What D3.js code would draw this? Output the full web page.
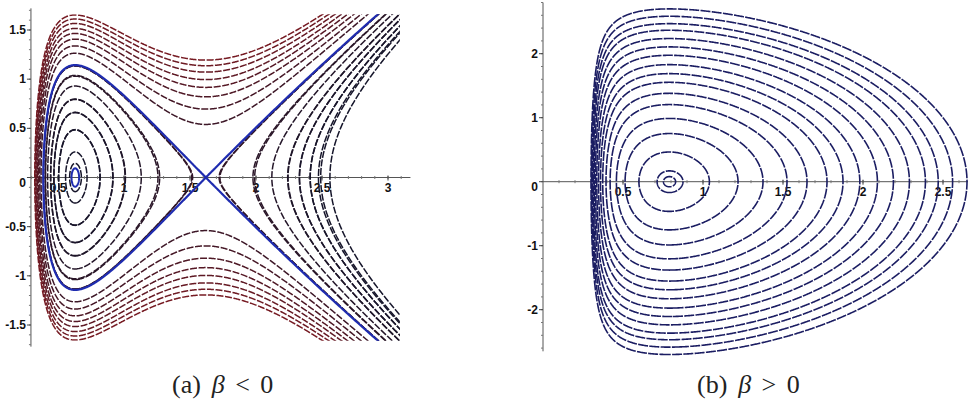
<!DOCTYPE html>
<html><head><meta charset="utf-8">
<script src="https://cdn.jsdelivr.net/npm/d3@7"></script>
<style>
body{margin:0;background:#fff;}
svg{display:block;}
.tick{font-family:"Liberation Sans",Arial,sans-serif;font-weight:700;font-size:12px;fill:#111;}
.cap{font-family:"Liberation Serif","Times New Roman",serif;font-size:26px;fill:#222;}
</style></head>
<body><svg id="c" width="968" height="403"></svg>
<script>
// ---------------- Panel (a): beta < 0 ----------------
const aXTicks = [0.5, 1, 1.5, 2, 2.5, 3];
const aYTicks = [-1.5, -1, -0.5, 0, 0.5, 1, 1.5];
const aCentreX = 0.63;           // centre (elliptic point)
const aSaddleX = 1.62;           // saddle (hyperbolic point)
const aSeparatrixPeakY = 1.143;  // height of separatrix above the centre
const aOuterPeakY = [1.653, 1.612, 1.567, 1.516, 1.465, 1.407, 1.338, 1.264]; // outer orbits, height above centre
const aInnerCrossX = [0.72, 0.818, 0.917, 1.008, 1.27, 1.52];                 // closed orbits, right crossing of y=0
const aRightCrossX = [1.727, 1.99, 2.12, 2.24, 2.33, 2.41, 2.49, 2.56];      // unbounded orbits right of saddle
const aSmallOrbitX = 0.66;       // small blue orbit round the centre

// ---------------- Panel (b): beta > 0 ----------------
const bXTicks = [0.5, 1, 1.5, 2, 2.5];
const bYTicks = [-2, -1, 0, 1, 2];
const bCrossX = [0.829, 0.875, 1.04, 1.219, 1.375, 1.525, 1.65, 1.775, 1.875, 1.98, 2.09, 2.19, 2.29, 2.39, 2.47, 2.56, 2.65];

// ---------------- Hamiltonians H = y^2/2 + V(x) ----------------
const nA = 1.5;
const pA = aCentreX ** (nA + 1), qA = aSaddleX ** (nA + 1);
const BA = nA * (qA - pA) / (aSaddleX - aCentreX);
const AA = BA * aCentreX - nA * pA;
const fA = x => AA / x + BA * Math.log(x) - Math.pow(x, nA);
const kA = (aSeparatrixPeakY * aSeparatrixPeakY / 2) / (fA(aSaddleX) - fA(aCentreX));
const VA = x => kA * fA(x);
const HA = (x, y) => y * y / 2 + VA(x);

const sB = 0.24, aB = 0.001312, bB = 0.23577, cB = 0.7229;
const VB = x => { const u = x - sB; return aB / (u * u) + bB / u + cB * u * u; };
const HB = (x, y) => y * y / 2 + VB(x);

const svg = d3.select("#c");
const defs = svg.append("defs");

function contourSet(g, H, xr, yr, step, levels, sx, sy) {
  const nx = Math.ceil((xr[1] - xr[0]) / step) + 1;
  const ny = Math.ceil((yr[1] - yr[0]) / step) + 1;
  const vals = new Float64Array(nx * ny);
  for (let j = 0; j < ny; j++) {
    const y = yr[1] - j * step;
    for (let i = 0; i < nx; i++) vals[j * nx + i] = H(xr[0] + i * step, y);
  }
  const gen = d3.contours().size([nx, ny]);
  const proj = d3.geoTransform({
    point(px, py) { this.stream.point(sx(xr[0] + (px - 0.5) * step), sy(yr[1] - (py - 0.5) * step)); }
  });
  const path = d3.geoPath(proj);
  levels.forEach(lv => {
    (lv.group || g).append("path")
      .attr("d", path(gen.contour(vals, lv.value)))
      .attr("fill", "none")
      .attr("stroke", lv.color)
      .attr("stroke-width", lv.width)
      .attr("stroke-dasharray", lv.dash || null)
      .attr("stroke-linejoin", "round");
  });
}

function axes(x, y, xAxisRange, yAxisX, yAxisRange, xTicks, yTicks, xMinor, yMinor) {
  const g = svg.append("g");
  const y0 = y(0);
  g.append("line").attr("x1", x(xAxisRange[0])).attr("x2", x(xAxisRange[1]))
    .attr("y1", y0).attr("y2", y0).attr("stroke", "#555").attr("stroke-width", 1);
  const xa = x(yAxisX);
  g.append("line").attr("x1", xa).attr("x2", xa)
    .attr("y1", y(yAxisRange[0])).attr("y2", y(yAxisRange[1])).attr("stroke", "#555").attr("stroke-width", 1);
  xMinor.forEach(v => g.append("line").attr("x1", x(v)).attr("x2", x(v)).attr("y1", y0 - 1.5).attr("y2", y0 + 1.5).attr("stroke", "#777"));
  yMinor.forEach(v => g.append("line").attr("x1", xa - 2).attr("x2", xa).attr("y1", y(v)).attr("y2", y(v)).attr("stroke", "#777"));
  xTicks.forEach(v => {
    g.append("line").attr("x1", x(v)).attr("x2", x(v)).attr("y1", y0 - 2).attr("y2", y0 + 3).attr("stroke", "#444");
    g.append("text").attr("class", "tick").attr("x", x(v)).attr("y", y0 + 14).attr("text-anchor", "middle").text(v);
  });
  yTicks.forEach(v => {
    g.append("line").attr("x1", xa - 4).attr("x2", xa).attr("y1", y(v)).attr("y2", y(v)).attr("stroke", "#444");
    g.append("text").attr("class", "tick").attr("x", xa - 5).attr("y", y(v) + (v === 0 ? 9 : 4))
      .attr("text-anchor", "end").text(v);
  });
}

function range(a, b, s) { const r = []; for (let v = a; v <= b + 1e-9; v += s) r.push(+v.toFixed(3)); return r; }

// ---------------- draw panel (a) ----------------
{
  const x = d3.scaleLinear().domain([0.5, 3]).range([58, 388]);
  const y = d3.scaleLinear().domain([-1.5, 1.5]).range([325, 30]);
  defs.append("clipPath").attr("id", "clipA").append("rect")
    .attr("x", x(0.295)).attr("y", y(1.66)).attr("width", x(3.09) - x(0.295)).attr("height", y(-1.66) - y(1.66));
  defs.append("clipPath").attr("id", "clipA2").append("rect")
    .attr("x", x(0.4)).attr("y", y(0.6)).attr("width", x(1.0) - x(0.4)).attr("height", y(-0.6) - y(0.6));
  axes(x, y, [0.295, 3.17], 0.295, [-1.72, 1.72], aXTicks, aYTicks, range(0.3, 3.1, 0.1), range(-1.7, 1.7, 0.1));
  const eCentre = VA(aCentreX);
  const plain = [];
  aOuterPeakY.forEach(v => plain.push(eCentre + v * v / 2));
  aInnerCrossX.forEach(v => plain.push(VA(v)));
  aRightCrossX.forEach(v => plain.push(VA(v)));
  const eMin = d3.min(plain), eMax = d3.max(plain);
  const col = d3.interpolateRgb("#15152a", "#761a22");
  const g = svg.append("g").attr("clip-path", "url(#clipA)");
  const gSmall = svg.append("g").attr("clip-path", "url(#clipA2)");
  const levels = plain.map(e => ({ value: e, color: col(Math.pow((e - eMin) / (eMax - eMin), 1.8)), width: 1.5, dash: "7,1.6" }));
  levels.push({ value: VA(aSaddleX), color: "#1f2cb0", width: 2.2 });
  levels.push({ value: VA(aSmallOrbitX), color: "#1f2cb0", width: 2, group: gSmall });
  contourSet(g, HA, [0.28, 3.13], [-1.72, 1.72], 0.005, levels, x, y);
}

// ---------------- draw panel (b) ----------------
{
  const x = d3.scaleLinear().domain([0, 2.5]).range([543, 943]);
  const y = d3.scaleLinear().domain([-2, 2]).range([309.7, 53.7]);
  defs.append("clipPath").attr("id", "clipB").append("rect")
    .attr("x", x(0.26)).attr("y", y(2.8)).attr("width", x(2.78) - x(0.26)).attr("height", y(-2.8) - y(2.8));
  axes(x, y, [0, 2.66], 0, [-2.65, 2.8], bXTicks, bYTicks, range(0.1, 2.6, 0.1), range(-2.6, 2.8, 0.2));
  const levels = bCrossX.map(v => ({ value: VB(v), color: "#1b1d62", width: 1.6, dash: "10,1.3" }));
  const g = svg.append("g").attr("clip-path", "url(#clipB)");
  contourSet(g, HB, [0.25, 2.8], [-2.85, 2.85], 0.006, levels, x, y);
}

// ---------------- captions ----------------
function caption(x0, label, rel) {
  const t = svg.append("text").attr("class", "cap").attr("x", x0).attr("y", 393);
  t.append("tspan").text("(" + label + ")");
  t.append("tspan").attr("dx", "0.42em").attr("font-style", "italic").text("β");
  t.append("tspan").attr("dx", "0.4em").text(rel);
  t.append("tspan").attr("dx", "0.4em").text("0");
}
caption(172, "a", "<");
caption(697, "b", ">");
</script>
</body></html>
